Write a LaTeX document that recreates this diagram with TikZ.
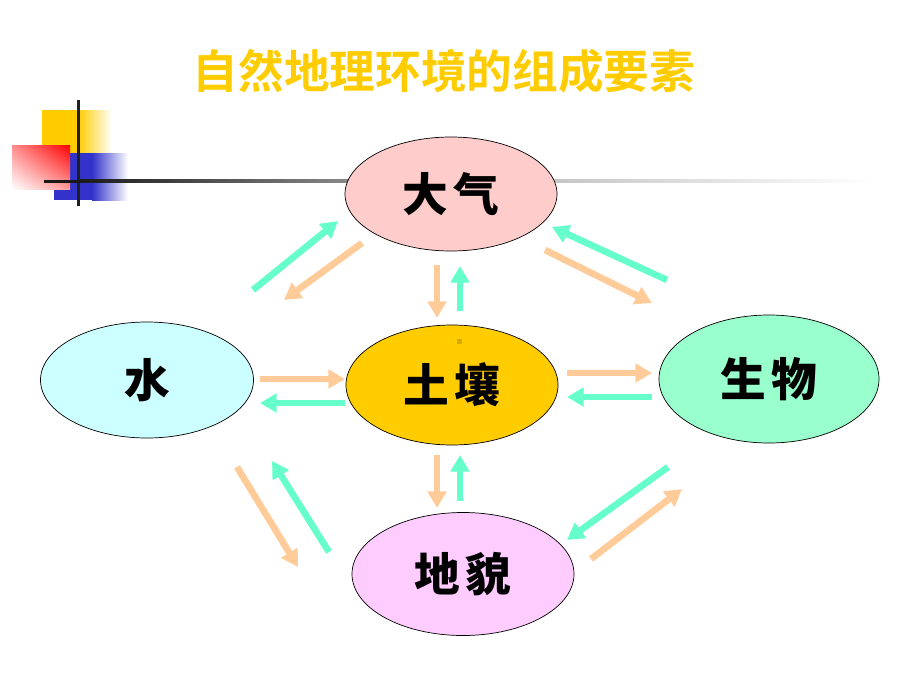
\documentclass[tikz,border=0pt]{standalone}
\usepackage{fontspec}
\newfontfamily\titlefont{Noto Sans CJK SC Bold}
\newfontfamily\labelfont{Noto Sans CJK SC Black}
\usepackage{tikz}
\usetikzlibrary{arrows.meta, shapes.geometric, shadings}

\definecolor{titlegold}{HTML}{FFCC00}
\definecolor{decoblue}{HTML}{3333CC}
\definecolor{peach}{HTML}{FFCC99}
\definecolor{aqua}{HTML}{66FFCC}
\definecolor{airpink}{HTML}{FFCCCC}
\definecolor{waterblue}{HTML}{CCFFFF}
\definecolor{lifegreen}{HTML}{99FFCC}
\definecolor{landpink}{HTML}{FFCCFF}

\begin{document}
\begin{tikzpicture}[x=0.03cm, y=-0.03cm,
    elem/.style={ellipse, draw, line width=0.6pt, inner sep=0pt,
        font=\labelfont\fontsize{39pt}{39pt}\selectfont},
    oarr/.style={-{Triangle[length=0.5cm, width=0.55cm]}, line width=0.2cm, peach},
    carr/.style={-{Triangle[length=0.5cm, width=0.55cm]}, line width=0.2cm, aqua}]
    \useasboundingbox (0,0) rectangle (920,690);

    % Title
    \node[font=\titlefont\fontsize{39pt}{39pt}\selectfont, text=titlegold] (title) at (444,71) {自然地理环境的组成要素};

    % Corner decoration
    \fill[titlegold] (42,110) rectangle (78,153);
    \shade[left color=titlegold, right color=white] (78,110) rectangle (112,153);
    \fill[decoblue] (54,153) rectangle (92,200);
    \shade[left color=decoblue, right color=white] (92,153) rectangle (128,200);
    \shade[upper right=red, upper left=red!45, lower right=red!40, lower left=white] (12,145) rectangle (70,189);
    \fill[black!88] (76.5,100) rectangle (79.5,206);
    \fill[black!90] (44,179.5) rectangle (80,182.5);
    \shade[left color=black!90, right color=black!30] (80,179.5) rectangle (450,182.5);
    \shade[left color=black!30, right color=white] (450,179.5) rectangle (873,182.5);

    % Elements
    \node[elem, fill=airpink, minimum width=6.36cm, minimum height=3.42cm] (daqi) at (451,194) {大\hspace{0.12em}气};
    \node[elem, fill=titlegold, minimum width=6.36cm, minimum height=3.6cm] (turang) at (452,385) {土\hspace{0.12em}壤};
    \node[elem, fill=waterblue, minimum width=6.39cm, minimum height=3.48cm] (shui) at (147,380) {水};
    \node[elem, fill=lifegreen, minimum width=6.6cm, minimum height=3.84cm] (shengwu) at (769,379) {生\hspace{0.12em}物};
    \node[elem, fill=landpink, minimum width=6.66cm, minimum height=3.69cm] (dimao) at (463,574) {地\hspace{0.12em}貌};
    \fill[titlegold!85!black] ([shift={(5,-46)}]turang.center) rectangle ++(5,5);

    % Air
    \draw[carr] ([shift={(106,-90)}]shui.center) -- ([shift={(-113,27)}]daqi.center);
    \draw[oarr] ([shift={(-89,49)}]daqi.center) -- ([shift={(137,-80)}]shui.center);
    \draw[oarr] ([shift={(-14,71)}]daqi.center) -- ([shift={(-15,-67)}]turang.center);
    \draw[carr] ([shift={(8,-74)}]turang.center) -- ([shift={(9,72)}]daqi.center);
    \draw[carr] ([shift={(-102,-99)}]shengwu.center) -- ([shift={(101,33)}]daqi.center);
    \draw[oarr] ([shift={(94,56)}]daqi.center) -- ([shift={(-117,-76)}]shengwu.center);

    % Soil, left and right
    \draw[oarr] ([shift={(113,-1)}]shui.center) -- ([shift={(-107,-6)}]turang.center);
    \draw[carr] ([shift={(-107,18)}]turang.center) -- ([shift={(113,23)}]shui.center);
    \draw[oarr] ([shift={(115,-12)}]turang.center) -- ([shift={(-117,-6)}]shengwu.center);
    \draw[carr] ([shift={(-117,18)}]shengwu.center) -- ([shift={(115,12)}]turang.center);

    % Landform
    \draw[oarr] ([shift={(90,87)}]shui.center) -- ([shift={(-165,-7)}]dimao.center);
    \draw[carr] ([shift={(-134,-22)}]dimao.center) -- ([shift={(125,81)}]shui.center);
    \draw[oarr] ([shift={(-15,70)}]turang.center) -- ([shift={(-26,-66)}]dimao.center);
    \draw[carr] ([shift={(-3,-73)}]dimao.center) -- ([shift={(8,70)}]turang.center);
    \draw[carr] ([shift={(-101,88)}]shengwu.center) -- ([shift={(104,-34)}]dimao.center);
    \draw[oarr] ([shift={(128,-15)}]dimao.center) -- ([shift={(-87,110)}]shengwu.center);
\end{tikzpicture}
\end{document}
